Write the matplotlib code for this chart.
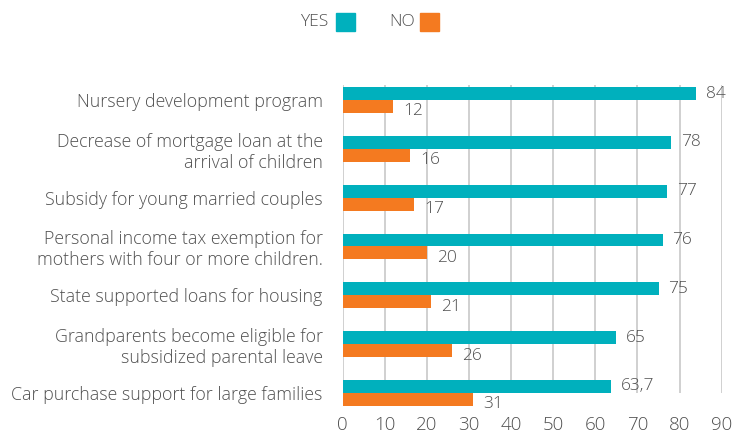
import matplotlib
matplotlib.use("Agg")
import matplotlib.pyplot as plt
from matplotlib.patches import Rectangle
import numpy as np

categories = [
    "Nursery development program",
    "Decrease of mortgage loan at the\narrival of children",
    "Subsidy for young married couples",
    "Personal income tax exemption for\nmothers with four or more children.",
    "State supported loans for housing",
    "Grandparents become eligible for\nsubsidized parental leave",
    "Car purchase support for large families",
]
yes_vals = [84, 78, 77, 76, 75, 65, 63.7]
no_vals = [12, 16, 17, 20, 21, 26, 31]
yes_labels = ["84", "78", "77", "76", "75", "65", "63,7"]
no_labels = ["12", "16", "17", "20", "21", "26", "31"]
xticks = [0, 10, 20, 30, 40, 50, 60, 70, 80, 90]

TEAL = "#00B0BD"
ORANGE = "#F47A20"
TXT = "#505050"
GRID = "#C8C8C8"

plt.rcParams['font.family'] = ['Open Sans', 'DejaVu Sans']

W, H = 735, 433
fig = plt.figure(figsize=(W / 100, H / 100), dpi=100)
ax = fig.add_axes([342.7 / W, 1 - 410 / H, (721.7 - 342.7) / W, (410 - 80) / H])

y = np.arange(len(categories))
bh = 0.266
ax.vlines(xticks, -0.3, len(categories) - 1, color=GRID, linewidth=1.2, zorder=1)
ax.barh(y - bh / 2, yes_vals, height=bh, color=TEAL, zorder=2)
ax.barh(y + bh / 2, no_vals, height=bh, color=ORANGE, zorder=2)

for i in range(len(categories)):
    ax.annotate(yes_labels[i], (yes_vals[i], y[i] - bh / 2), xytext=(7, 0),
                textcoords="offset points", va="center", ha="left",
                fontsize=12.5, color=TXT, fontweight="light", zorder=3)
    ax.annotate(no_labels[i], (no_vals[i], y[i] + bh / 2 + 0.1), xytext=(7, 0),
                textcoords="offset points", va="center", ha="left",
                fontsize=12.5, color=TXT, fontweight="light", zorder=3)

ax.set_xlim(0, 90)
ax.set_ylim((410 - 100) / 48.83, (80 - 100) / 48.83)
ax.set_yticks(y)
ax.set_yticklabels(categories, fontsize=12.8, color=TXT, fontweight="light",
                   ha="right", linespacing=1.2)
ax.set_xticks(xticks)
ax.set_xticklabels([str(t) for t in xticks], fontsize=13.5, color=TXT,
                   fontweight="light")
ax.tick_params(axis="y", length=0, pad=14.5)
ax.tick_params(axis="x", length=0, pad=4)
for s in ax.spines.values():
    s.set_visible(False)

# legend
fig.text(328 / W, 1 - 22 / H, "YES", ha="right", va="center", fontsize=12.5,
         color=TXT, fontweight="light")
fig.patches.append(Rectangle((336 / W, 1 - 31 / H), 19 / W, 18 / H,
                             transform=fig.transFigure, color=TEAL))
fig.text(415 / W, 1 - 22 / H, "NO", ha="right", va="center", fontsize=12.5,
         color=TXT, fontweight="light")
fig.patches.append(Rectangle((420 / W, 1 - 31 / H), 19 / W, 18 / H,
                             transform=fig.transFigure, color=ORANGE))

fig.savefig("out.png", dpi=100, facecolor="white")
